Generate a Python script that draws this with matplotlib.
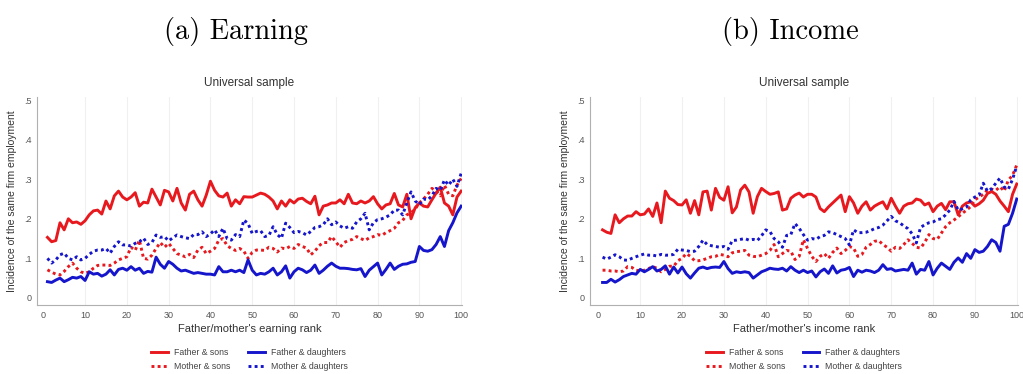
import numpy as np
import matplotlib
matplotlib.use("Agg")
import matplotlib.pyplot as plt

ranks = list(range(1, 101))

fs_a = [.153,.142,.145,.19,.172,.20,.19,.192,.186,.195,
        .21,.22,.222,.212,.245,.225,.258,.27,.255,.248,
        .255,.266,.232,.242,.24,.275,.255,.235,.272,.268,
        .245,.277,.24,.222,.262,.27,.248,.232,.26,.295,
        .272,.258,.255,.265,.232,.248,.238,.256,.255,.255,
        .26,.265,.262,.255,.245,.225,.245,.232,.248,.24,
        .25,.252,.244,.238,.257,.21,.232,.235,.24,.24,
        .248,.238,.262,.24,.238,.245,.24,.245,.256,.238,
        .225,.235,.238,.264,.235,.23,.262,.2,.228,.24,
        .232,.23,.248,.265,.28,.24,.232,.21,.255,.27]
ms_a = [.071,.065,.06,.058,.067,.079,.088,.075,.066,.062,
        .066,.075,.082,.083,.083,.082,.088,.096,.1,.104,
        .128,.12,.146,.1,.098,.108,.125,.14,.128,.138,
        .125,.112,.108,.104,.11,.102,.121,.128,.112,.118,
        .125,.146,.15,.132,.125,.12,.125,.118,.1,.115,
        .121,.121,.12,.128,.125,.116,.126,.124,.13,.125,
        .135,.13,.126,.109,.118,.132,.14,.14,.155,.142,
        .128,.14,.145,.148,.155,.15,.145,.152,.155,.16,
        .158,.165,.17,.176,.19,.196,.21,.215,.225,.24,
        .25,.262,.277,.27,.258,.285,.262,.258,.285,.302]
fd_a = [.041,.039,.045,.05,.041,.046,.052,.05,.054,.044,
        .066,.06,.062,.055,.06,.071,.058,.072,.075,.07,
        .079,.07,.075,.062,.067,.065,.103,.085,.075,.092,
        .085,.075,.068,.07,.066,.062,.064,.062,.06,.06,
        .058,.079,.066,.066,.07,.066,.07,.064,.096,.07,
        .058,.062,.06,.066,.075,.058,.066,.081,.05,.066,
        .075,.071,.064,.07,.083,.062,.07,.08,.088,.08,
        .075,.075,.074,.072,.071,.074,.054,.07,.079,.088,
        .058,.072,.088,.072,.08,.085,.086,.09,.092,.13,
        .12,.118,.122,.135,.155,.13,.17,.19,.215,.232]
md_a = [.1,.088,.096,.109,.113,.1,.096,.104,.096,.1,
        .11,.118,.121,.121,.125,.113,.13,.142,.134,.134,
        .131,.138,.142,.151,.135,.14,.159,.153,.155,.144,
        .152,.159,.155,.152,.15,.16,.16,.167,.155,.162,
        .172,.155,.176,.15,.146,.16,.155,.197,.188,.163,
        .168,.17,.155,.158,.18,.16,.151,.189,.178,.165,
        .168,.165,.159,.168,.178,.18,.185,.2,.185,.192,
        .182,.176,.18,.176,.192,.2,.214,.172,.19,.198,
        .2,.204,.21,.222,.222,.21,.24,.268,.245,.236,
        .25,.248,.258,.277,.272,.298,.285,.3,.282,.315]

fs_b = [.172,.166,.163,.21,.19,.2,.207,.207,.218,.21,
        .212,.225,.206,.24,.19,.27,.252,.246,.236,.235,
        .248,.214,.246,.21,.268,.27,.222,.277,.254,.247,
        .281,.215,.23,.273,.285,.268,.214,.256,.277,.269,
        .262,.264,.268,.222,.225,.252,.26,.265,.255,.262,
        .262,.255,.226,.218,.23,.24,.25,.26,.218,.256,
        .24,.214,.232,.243,.222,.232,.238,.243,.225,.252,
        .232,.214,.232,.238,.24,.25,.247,.235,.24,.218,
        .232,.239,.223,.243,.243,.21,.232,.24,.243,.232,
        .238,.247,.264,.269,.262,.245,.232,.218,.262,.288]
ms_b = [.07,.07,.068,.068,.066,.068,.079,.077,.07,.068,
        .07,.074,.079,.075,.066,.072,.08,.08,.094,.1,
        .112,.105,.094,.094,.096,.1,.104,.105,.11,.108,
        .104,.114,.117,.118,.12,.108,.105,.104,.108,.112,
        .12,.135,.104,.112,.12,.118,.097,.105,.147,.125,
        .105,.092,.105,.112,.1,.115,.126,.112,.12,.13,
        .126,.105,.11,.128,.135,.143,.145,.135,.128,.118,
        .128,.125,.135,.147,.138,.128,.126,.14,.16,.15,
        .148,.164,.18,.19,.197,.205,.214,.222,.231,.248,
        .255,.262,.273,.275,.272,.281,.27,.298,.31,.336]
fd_b = [.039,.039,.047,.04,.046,.054,.058,.062,.06,.072,
        .066,.072,.079,.068,.072,.081,.06,.078,.063,.078,
        .061,.05,.063,.075,.078,.074,.077,.078,.077,.092,
        .074,.062,.066,.064,.066,.064,.05,.058,.066,.07,
        .075,.073,.072,.075,.068,.079,.07,.064,.07,.064,
        .068,.053,.066,.073,.062,.081,.063,.07,.072,.077,
        .054,.07,.065,.07,.068,.064,.07,.084,.072,.074,
        .068,.07,.072,.07,.088,.06,.072,.07,.092,.058,
        .075,.088,.08,.072,.09,.101,.09,.112,.1,.122,
        .115,.118,.13,.147,.14,.118,.181,.186,.214,.25]
md_b = [.103,.098,.103,.109,.104,.096,.095,.1,.104,.108,
        .111,.108,.108,.106,.11,.108,.108,.11,.123,.121,
        .12,.117,.118,.13,.146,.135,.132,.13,.128,.13,
        .123,.145,.146,.148,.15,.146,.148,.145,.157,.172,
        .168,.15,.142,.128,.158,.16,.188,.176,.16,.146,
        .15,.148,.155,.158,.167,.165,.16,.155,.15,.134,
        .172,.165,.165,.166,.17,.175,.178,.184,.195,.206,
        .195,.19,.182,.175,.162,.139,.178,.185,.19,.192,
        .198,.2,.21,.222,.244,.222,.225,.23,.248,.255,
        .26,.29,.27,.276,.29,.303,.28,.275,.3,.334]

xticks = [0, 10, 20, 30, 40, 50, 60, 70, 80, 90, 100]
yticks = [0, .1, .2, .3, .4, .5]
ytick_labels = ["0", ".1", ".2", ".3", ".4", ".5"]
series_labels = ["Father & sons", "Mother & sons", "Father & daughters", "Mother & daughters"]

RED = "#e8191e"
BLUE = "#1515cc"
W, H = 1023, 374

fig = plt.figure(figsize=(W/100, H/100), dpi=100)
plt.rcParams['font.family'] = ['Liberation Sans', 'DejaVu Sans']

panels = [
    dict(left=37, right=462, xlim=(-1.5, 100.2), data=(fs_a, ms_a, fd_a, md_a),
         xlabel="Father/mother's earning rank", caption="(a) Earning", cap_x=236),
    dict(left=590, right=1018, xlim=(-2.0, 100.3), data=(fs_b, ms_b, fd_b, md_b),
         xlabel="Father/mother's income rank", caption="(b) Income", cap_x=790),
]

top_px, bot_px = 97, 305
for p in panels:
    ax = fig.add_axes([p['left']/W, 1 - bot_px/H, (p['right']-p['left'])/W, (bot_px-top_px)/H])
    fs, ms, fd, md = p['data']
    for gx in xticks[1:]:
        ax.axvline(gx, color="#f0f0f0", lw=0.8, zorder=0)
    l1, = ax.plot(ranks, fs, color=RED, lw=2.1, solid_joinstyle='round')
    l2, = ax.plot(ranks, ms, color=RED, lw=2.1, ls=(0, (1, 1.1)))
    l3, = ax.plot(ranks, fd, color=BLUE, lw=2.1, solid_joinstyle='round')
    l4, = ax.plot(ranks, md, color=BLUE, lw=2.1, ls=(0, (1, 1.1)))
    ax.set_xlim(*p['xlim'])
    ax.set_ylim(-0.018, 0.508)
    ax.set_xticks(xticks)
    ax.set_xticklabels([str(t) for t in xticks])
    ax.set_yticks(yticks)
    ax.set_yticklabels(ytick_labels)
    ax.tick_params(length=0, labelsize=6.5, labelcolor="#555555", pad=4)
    for s in ["top", "right"]:
        ax.spines[s].set_visible(False)
    for s in ["left", "bottom"]:
        ax.spines[s].set_color("#b0b0b0")
        ax.spines[s].set_linewidth(0.8)
    ax.set_xlabel(p['xlabel'], fontsize=8, color="#333333", labelpad=3)
    ax.set_ylabel("Incidence of the same firm employment", fontsize=7.5, color="#333333", labelpad=5)
    ax.set_title("Universal sample", fontsize=8.5, color="#333333", pad=8)
    ax.legend([l1, l2, l3, l4], series_labels, loc="upper center",
              bbox_to_anchor=(0.5, -0.17), ncol=2, frameon=False, fontsize=6.3,
              handlelength=1.9, handletextpad=0.7, columnspacing=2.0, labelspacing=0.6,
              labelcolor="#444444")
    fig.text(p['cap_x']/W, 1 - 31/H, p['caption'], fontsize=20.5, family='cmr10',
             ha='center', va='center', color='black')

fig.savefig("out.png", dpi=100)
